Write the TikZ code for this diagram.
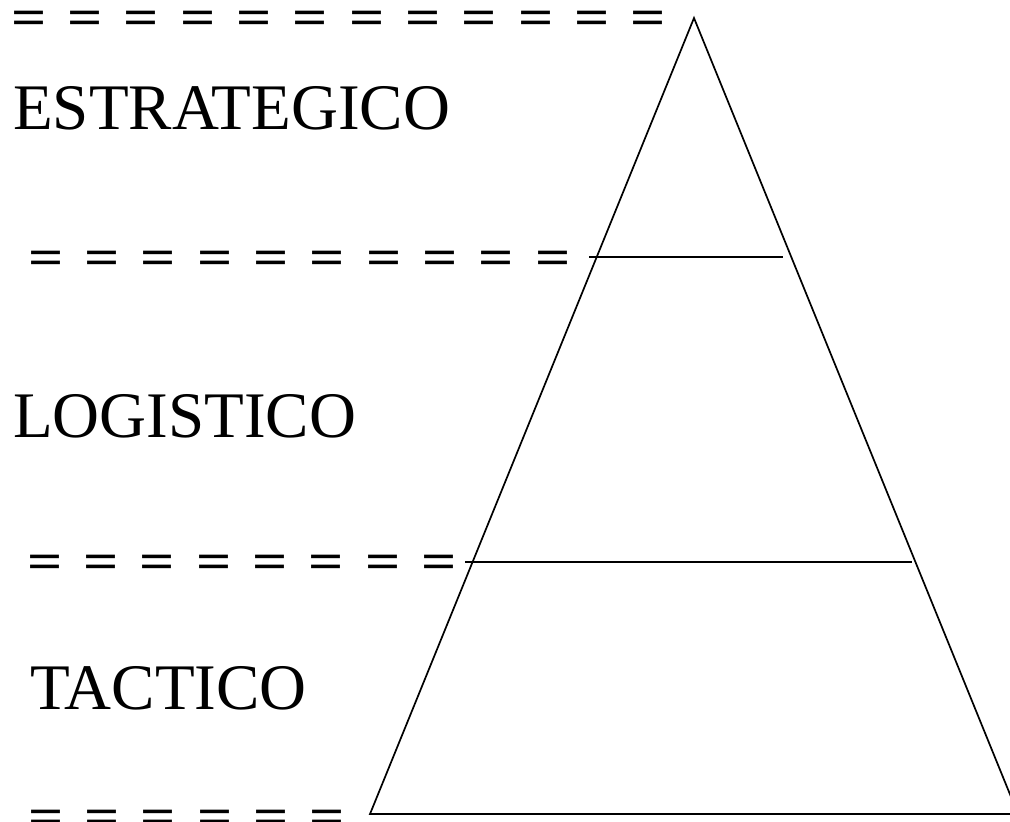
\documentclass[tikz,border=0pt]{standalone}
\usepackage{fontspec}
\setmainfont{Liberation Serif}
% a widened equals sign and the gap between neighbours
\newcommand{\eqsign}{\scalebox{1.24}[1]{\bfseries =}}
\newcommand{\eqgap}{\hspace{21pt}}
\begin{document}
\begin{tikzpicture}[x=1pt,y=-1pt,
  edge/.style={line width=1.7pt},
  level/.style={font=\fontsize{65}{65}\selectfont, anchor=base west, inner sep=0pt},
  eqrow/.style={font=\fontsize{50}{50}\selectfont, anchor=base west, inner sep=0pt}]
\useasboundingbox (0,0) rectangle (1010,822);
\clip (0,0) rectangle (1010,822);

% pyramid corners and the two dividing lines
\coordinate (apex) at (694,18);
\coordinate (bl) at (370,814);
\coordinate (br) at (1018,814);
\coordinate (d1l) at (589,257);
\coordinate (d1r) at (783,257);
\coordinate (d2l) at (465,562);
\coordinate (d2r) at (912,562);

\draw[edge] (bl) -- (apex) -- (br) -- cycle;
\draw[edge] (d1l) -- (d1r);
\draw[edge] (d2l) -- (d2r);

% level names
\node[level] (estr) at (13,129) {ESTRATEGICO};
\node[level] (logi) at (13,437) {LOGISTICO};
\node[level] (tact) at (30,709) {TACTICO};

% rows of equals signs
\node[eqrow] (eq1) at (11,34) {\eqsign\eqgap\eqsign\eqgap\eqsign\eqgap\eqsign\eqgap\eqsign\eqgap\eqsign\eqgap\eqsign\eqgap\eqsign\eqgap\eqsign\eqgap\eqsign\eqgap\eqsign\eqgap\eqsign};
\node[eqrow] (eq2) at (28,274) {\eqsign\eqgap\eqsign\eqgap\eqsign\eqgap\eqsign\eqgap\eqsign\eqgap\eqsign\eqgap\eqsign\eqgap\eqsign\eqgap\eqsign\eqgap\eqsign};
\node[eqrow] (eq3) at (27,578) {\eqsign\eqgap\eqsign\eqgap\eqsign\eqgap\eqsign\eqgap\eqsign\eqgap\eqsign\eqgap\eqsign\eqgap\eqsign};
\node[eqrow] (eq4) at (28,833) {\eqsign\eqgap\eqsign\eqgap\eqsign\eqgap\eqsign\eqgap\eqsign\eqgap\eqsign};
\end{tikzpicture}
\end{document}
